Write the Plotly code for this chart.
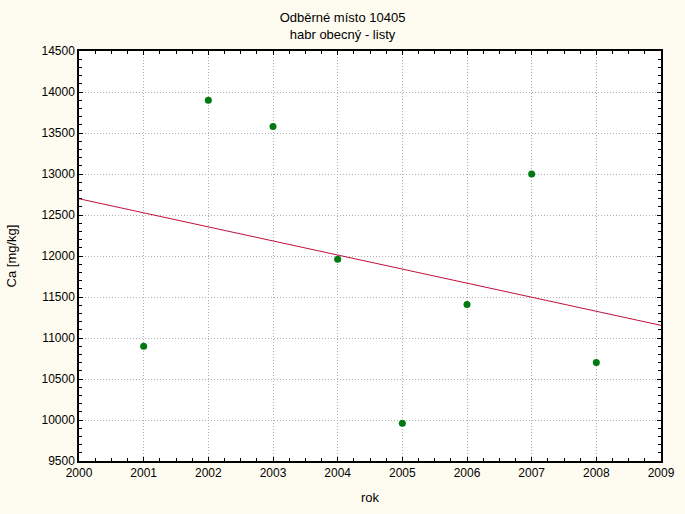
import numpy as np
import plotly.graph_objects as go

years = [2001, 2002, 2003, 2004, 2005, 2006, 2007, 2008]
ca = [10900, 13900, 13580, 11960, 9960, 11410, 13000, 10700]
x_range = [2000, 2009]
y_range = [9500, 14500]

slope, intercept = np.polyfit(years, ca, 1)
fit_x = np.array(x_range, dtype=float)
fit_y = slope * fit_x + intercept

font = "Liberation Sans, Arial, sans-serif"

fig = go.Figure()
fig.add_trace(go.Scatter(x=fit_x, y=fit_y, mode="lines",
                         line=dict(color="#c0103a", width=1), hoverinfo="skip",
                         showlegend=False))
fig.add_trace(go.Scatter(x=years, y=ca, mode="markers",
                         marker=dict(color="#007a10", size=7), showlegend=False))

axis_common = dict(
    showline=True, linecolor="black", linewidth=1.5, mirror="allticks",
    ticks="inside", ticklen=4, tickcolor="black", tickwidth=1,
    showgrid=True, gridcolor="#b0b0b0", griddash="1px,2px", gridwidth=1,
    zeroline=False, tickfont=dict(family=font, size=12, color="black"),
    automargin=False, tickformat="d",
)

fig.update_xaxes(range=x_range, dtick=1, tick0=2000,
                 title=dict(text="rok", font=dict(family=font, size=13, color="black"), standoff=14),
                 minor=dict(ticks="inside", dtick=0.25, ticklen=3, tickcolor="black", showgrid=False),
                 **axis_common)
fig.update_yaxes(range=y_range, dtick=500, tick0=9500,
                 title=dict(text="Ca [mg/kg]", font=dict(family=font, size=13, color="black"), standoff=22),
                 minor=dict(ticks="inside", dtick=100, ticklen=3, tickcolor="black", showgrid=False),
                 **axis_common)

fig.update_layout(
    width=685, height=514,
    paper_bgcolor="#fefcf0", plot_bgcolor="white",
    margin=dict(l=79, r=24, t=51, b=53, autoexpand=False),
    title=dict(text="Odběrné místo 10405<br>habr obecný - listy", x=0.5, xanchor="center",
               y=0.9575, yanchor="top",
               font=dict(family=font, size=13, color="black")),
    font=dict(family=font, size=12, color="black"),
)

fig.write_html("out.html", config={"displayModeBar": False},
               post_script="document.body.style.margin='0';document.body.style.background='#fefcf0';")
